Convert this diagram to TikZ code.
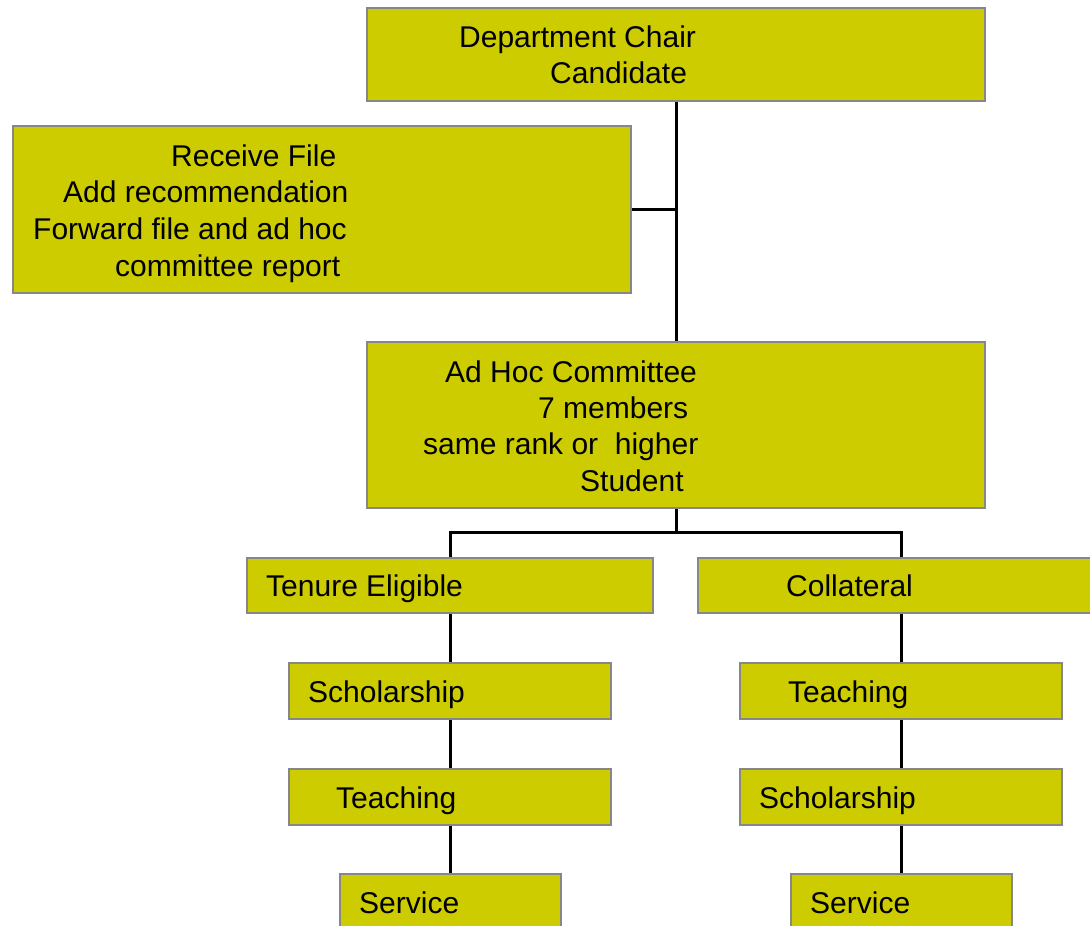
\documentclass[tikz,border=0pt]{standalone}
\usepackage{fontspec}
\setmainfont{Liberation Sans}
\definecolor{boxfill}{HTML}{CCCC00}
\definecolor{boxline}{HTML}{878787}
\tikzset{
  box/.style={draw=boxline, line width=2.6pt, fill=boxfill, inner sep=0pt, rectangle},
  lbl/.style={anchor=base west, inner sep=0pt, font=\fontsize{30}{36}\selectfont},
  link/.style={draw=black, line width=3pt},
}
\begin{document}
\begin{tikzpicture}[x=1pt, y=-1pt]
\useasboundingbox (0,0) rectangle (1090,926);
\clip (0,0) rectangle (1090,926);
% boxes
\node[box, minimum width=618pt, minimum height=93pt] (chair) at (676,54.5) {};
\node[box, minimum width=618pt, minimum height=167pt] (recv) at (322,209.5) {};
\node[box, minimum width=618pt, minimum height=166pt] (adhoc) at (676,425) {};
\node[box, minimum width=406pt, minimum height=55pt] (tenure) at (450,585.5) {};
\node[box, minimum width=406pt, minimum height=55pt] (coll) at (901,585.5) {};
\node[box, minimum width=322pt, minimum height=56pt] (lschol) at (450,691) {};
\node[box, minimum width=322pt, minimum height=56pt] (lteach) at (450,797) {};
\node[box, minimum width=221pt, minimum height=56pt] (lserv) at (450.5,902) {};
\node[box, minimum width=322pt, minimum height=56pt] (rteach) at (901,691) {};
\node[box, minimum width=322pt, minimum height=56pt] (rschol) at (901,797) {};
\node[box, minimum width=221pt, minimum height=56pt] (rserv) at (901.5,902) {};
% texts
\node[lbl] (t1a) at (459,47) {Department Chair};
\node[lbl] (t1b) at (550,83) {Candidate};
\node[lbl] (t2a) at (171,166) {Receive File};
\node[lbl] (t2b) at (63,202) {Add recommendation};
\node[lbl] (t2c) at (33,239) {Forward file and ad hoc};
\node[lbl] (t2d) at (115,276) {committee report};
\node[lbl] (t3a) at (445,382) {Ad Hoc Committee};
\node[lbl] (t3b) at (538,418) {7 members};
\node[lbl] (t3c) at (423,454) {same rank or\ \ higher};
\node[lbl] (t3d) at (580,491) {Student};
\node[lbl] (t4) at (266,596) {Tenure Eligible};
\node[lbl] (t5) at (786,596) {Collateral};
\node[lbl] (t6) at (308,702) {Scholarship};
\node[lbl] (t7) at (336,808) {Teaching};
\node[lbl] (t8) at (359,913) {Service};
\node[lbl] (t9) at (788,702) {Teaching};
\node[lbl] (t10) at (759,808) {Scholarship};
\node[lbl] (t11) at (810,913) {Service};
% connectors
\coordinate (split) at (676,532);
\path[link] (chair.south) -- (adhoc.north);
\path[link] (recv.east) -- (recv.east -| chair.south);
\path[link] (adhoc.south) -- (split);
\path[link] (tenure.north) -- (tenure.north |- split) -- (coll.north |- split) -- (coll.north);
\path[link] (tenure.south) -- (lschol.north);
\path[link] (lschol.south) -- (lteach.north);
\path[link] (lteach.south) -- (lserv.north -| lteach.south);
\path[link] (coll.south) -- (rteach.north);
\path[link] (rteach.south) -- (rschol.north);
\path[link] (rschol.south) -- (rserv.north -| rschol.south);
\end{tikzpicture}
\end{document}
